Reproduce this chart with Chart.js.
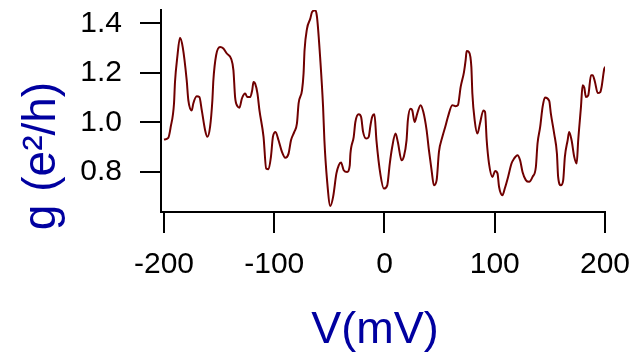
<!DOCTYPE html>
<html>
<head>
<meta charset="utf-8">
<script src="https://cdn.jsdelivr.net/npm/chart.js@4.4.1/dist/chart.umd.min.js"></script>
<style>
  html, body { margin: 0; padding: 0; background: #fff; }
  #wrap { width: 630px; height: 353px; }
</style>
</head>
<body>
<div id="wrap"><canvas id="grafico" width="630" height="353"></canvas></div>
<script>
// Condutância g (e²/h) em função da tensão V (mV)
const voltagem = [
  -200, -196.1, -193.9, -190.9, -190, -187.9, -185.5, -183, -179.4, -177.9,
  -174.8, -173.4, -170.3, -167.9, -165.7, -162.7, -160.6, -158.2, -156.1, -155.2,
  -152.7, -149.1, -146.1, -143, -139.1, -137, -135.5, -133.4, -131.5, -129.4,
  -126.4, -124.3, -121.8, -120, -118.8, -117.3, -115.2, -113.4, -109.7, -107.3,
  -105.2, -103, -101.2, -98.8, -96.1, -93, -90, -87, -84.8, -81.8,
  -79.4, -77.9, -74.8, -73.4, -72.5, -70.3, -67.3, -65.7, -62.7, -61.2,
  -58.2, -55.7, -54.5, -52.1, -49.1, -46.6, -43.6, -41.5, -39.4, -37,
  -33.9, -31.5, -30.9, -27.9, -26.4, -23.4, -21.2, -19.4, -16.6, -14.3,
  -12.7, -11.2, -9.1, -7.3, -3.6, -0.6, 2.5, 4.8, 7, 10,
  12.1, 15.5, 17.5, 20, 21.2, 23.6, 25.2, 27.3, 29.7, 32.7,
  35.2, 38.2, 40.3, 42.7, 44.8, 47.3, 49.4, 52.5, 55.5, 57.5,
  61.5, 64.5, 66.6, 69.1, 72.1, 73.6, 74.5, 76.6, 78.8, 79.7,
  81.8, 84.3, 86.6, 89.7, 91.2, 92.7, 94.8, 97.9, 100.3, 102.5,
  103.9, 107, 109.1, 112.1, 115.2, 117.5, 120.6, 123, 125.2, 128.2,
  131.2, 134.3, 137.3, 138.8, 141.2, 143.4, 145.5, 149.4, 150.9, 153.9,
  156.4, 157.5, 160, 162.1, 163.6, 166.1, 167.5, 169.7, 172.1, 174.3,
  175.7, 178.2, 179.7, 181.2, 182.7, 184.8, 187.3, 188.8, 190.9, 193.4,
  195.7, 197, 199.4, 200.9
];
const condutancia = [
  0.930, 0.937, 0.981, 1.076, 1.163, 1.264, 1.342, 1.304, 1.170, 1.089,
  1.048, 1.076, 1.105, 1.102, 1.048, 0.968, 0.941, 0.981, 1.089, 1.170,
  1.271, 1.304, 1.298, 1.278, 1.257, 1.210, 1.102, 1.065, 1.059, 1.095,
  1.116, 1.102, 1.102, 1.129, 1.163, 1.156, 1.116, 1.048, 0.941, 0.813,
  0.810, 0.860, 0.941, 0.961, 0.927, 0.880, 0.856, 0.873, 0.927, 0.961,
  0.995, 1.076, 1.129, 1.197, 1.291, 1.378, 1.419, 1.446, 1.453, 1.425,
  1.251, 1.062, 0.927, 0.766, 0.661, 0.698, 0.793, 0.826, 0.837, 0.806,
  0.799, 0.826, 0.873, 0.941, 1.001, 1.032, 1.021, 0.961, 0.934, 0.941,
  0.988, 1.021, 1.032, 0.927, 0.786, 0.732, 0.745, 0.833, 0.900, 0.954,
  0.920, 0.846, 0.860, 0.927, 1.008, 1.055, 1.048, 1.001, 1.035, 1.069,
  1.042, 0.968, 0.887, 0.806, 0.745, 0.766, 0.880, 0.941, 0.988, 1.021,
  1.069, 1.065, 1.069, 1.143, 1.203, 1.251, 1.288, 1.284, 1.223, 1.116,
  1.008, 0.954, 0.995, 1.048, 1.042, 0.927, 0.833, 0.779, 0.803, 0.793,
  0.739, 0.705, 0.732, 0.779, 0.833, 0.853, 0.867, 0.846, 0.799, 0.766,
  0.759, 0.779, 0.819, 0.914, 0.981, 1.062, 1.100, 1.086, 1.035, 0.954,
  0.873, 0.779, 0.745, 0.766, 0.860, 0.927, 0.961, 0.927, 0.860, 0.833,
  0.927, 1.062, 1.150, 1.140, 1.102, 1.109, 1.190, 1.190, 1.163, 1.118,
  1.122, 1.145, 1.217, 1.226
];
const ticksX = [-200, -100, 0, 100, 200];
const ticksY = [0.8, 1.0, 1.2, 1.4];
const tituloX = 'V(mV)';
const tituloY = 'g (e²/h)';

const fonte = 'Liberation Sans, Arial, sans-serif';
const azul = '#0000a0';

// títulos dos eixos desenhados à mão (no original não ficam centrados nos eixos)
const titulosEixos = {
    id: 'titulosEixos',
    afterDraw(chart) {
        const ctx = chart.ctx;
        ctx.save();
        ctx.fillStyle = azul;
        ctx.textAlign = 'center';
        ctx.textBaseline = 'alphabetic';

        ctx.font = '45px ' + fonte;
        ctx.fillText(tituloX, 375, 343);

        ctx.translate(55, 156);
        ctx.rotate(-Math.PI / 2);
        ctx.font = '46px ' + fonte;
        ctx.fillText(tituloY, 0, 0);
        ctx.restore();
    }
};

new Chart(document.getElementById('grafico').getContext('2d'), {
    type: 'line',
    data: {
        datasets: [{
            data: voltagem.map((v, i) => ({ x: v, y: condutancia[i] })),
            borderColor: '#700000',
            borderWidth: 2,
            pointRadius: 0,
            fill: false,
            cubicInterpolationMode: 'monotone'
        }]
    },
    options: {
        responsive: false,
        animation: false,
        layout: { padding: { left: 0, right: 1, top: 10, bottom: 0 } },
        plugins: {
            legend: { display: false },
            tooltip: { enabled: false }
        },
        scales: {
            x: {
                type: 'linear',
                min: -202.7,
                max: 200,
                afterBuildTicks: (scale) => { scale.ticks = ticksX.map(v => ({ value: v })); },
                afterFit: (scale) => {
                    scale.height = 141;
                    scale.paddingLeft = 0;
                    scale.paddingRight = 25;
                },
                grid: { drawOnChartArea: false, drawTicks: true, tickLength: 21, color: '#000', lineWidth: 2 },
                border: { display: true, color: '#000', width: 2 },
                ticks: {
                    color: '#000',
                    padding: 14,
                    maxRotation: 0,
                    font: { family: fonte, size: 30 }
                }
            },
            y: {
                type: 'linear',
                min: 0.637,
                max: 1.454,
                afterBuildTicks: (scale) => { scale.ticks = ticksY.map(v => ({ value: v })); },
                afterFit: (scale) => {
                    scale.width = 161;
                    scale.paddingTop = 0;
                    scale.paddingBottom = 0;
                },
                grid: { drawOnChartArea: false, drawTicks: true, tickLength: 21, color: '#000', lineWidth: 2 },
                border: { display: true, color: '#000', width: 2 },
                ticks: {
                    color: '#000',
                    padding: 18,
                    font: { family: fonte, size: 30 },
                    callback: (v) => v.toFixed(1)
                }
            }
        }
    },
    plugins: [titulosEixos]
});
</script>
</body>
</html>
